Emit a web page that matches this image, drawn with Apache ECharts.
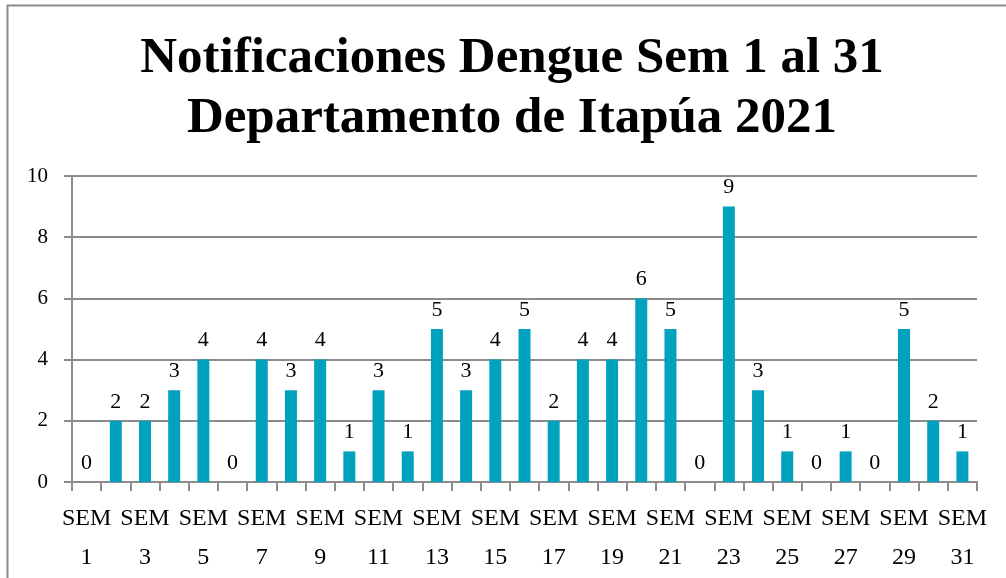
<!DOCTYPE html>
<html>
<head>
<meta charset="utf-8">
<script src="https://cdn.jsdelivr.net/npm/echarts@6/dist/echarts.min.js"></script>
<style>html,body{margin:0;padding:0;background:#fff;}#c{width:1006px;height:578px;}</style>
</head>
<body>
<div id="c"></div>
<script>
const titleLines = ['Notificaciones Dengue Sem 1 al 31', 'Departamento de Itapúa 2021'];
const categories = ['SEM 1','SEM 2','SEM 3','SEM 4','SEM 5','SEM 6','SEM 7','SEM 8','SEM 9','SEM 10','SEM 11','SEM 12','SEM 13','SEM 14','SEM 15','SEM 16','SEM 17','SEM 18','SEM 19','SEM 20','SEM 21','SEM 22','SEM 23','SEM 24','SEM 25','SEM 26','SEM 27','SEM 28','SEM 29','SEM 30','SEM 31'];
const values = [0,2,2,3,4,0,4,3,4,1,3,1,5,3,4,5,2,4,4,6,5,0,9,3,1,0,1,0,5,2,1];
const yTicks = {min: 0, max: 10, interval: 2};

const font = 'Liberation Serif';
const chart = echarts.init(document.getElementById('c'));
chart.setOption({
  animation: false,
  backgroundColor: '#fff',
  graphic: [{
    type: 'rect', shape: {x: 7.5, y: 5.5, width: 1010, height: 600},
    style: {fill: 'none', stroke: '#8c8c8c', lineWidth: 2}, z: -1
  }, {
    type: 'text', x: 512, y: 29,
    style: {text: titleLines.join('\n'), textAlign: 'center', textVerticalAlign: 'top',
      font: 'bold 51px "Liberation Serif"', lineHeight: 60, fill: '#000'}
  }],
  grid: {left: 72, right: 29, top: 176, bottom: 96, containLabel: false},
  xAxis: {
    type: 'category', data: categories,
    axisLine: {lineStyle: {color: '#8c8c8c', width: 2}},
    axisTick: {show: true, interval: 0, length: 9, lineStyle: {color: '#8c8c8c', width: 2}},
    axisLabel: {
      interval: 1, color: '#000', fontFamily: font, fontSize: 24, lineHeight: 39, margin: 17,
      formatter: v => v.replace(' ', '\n')
    }
  },
  yAxis: {
    type: 'value', min: yTicks.min, max: yTicks.max, interval: yTicks.interval,
    axisLine: {show: true, lineStyle: {color: '#8c8c8c', width: 2}},
    axisTick: {show: true, length: 8, lineStyle: {color: '#8c8c8c', width: 2}},
    splitLine: {lineStyle: {color: '#8c8c8c', width: 2}},
    axisLabel: {color: '#000', fontFamily: font, fontSize: 21, margin: 24}
  },
  series: [{
    type: 'bar', data: values, barWidth: 12,
    itemStyle: {color: '#00A2BE'},
    label: {show: true, position: 'top', distance: 8, color: '#000', fontFamily: font, fontSize: 22}
  }]
});
</script>
</body>
</html>
